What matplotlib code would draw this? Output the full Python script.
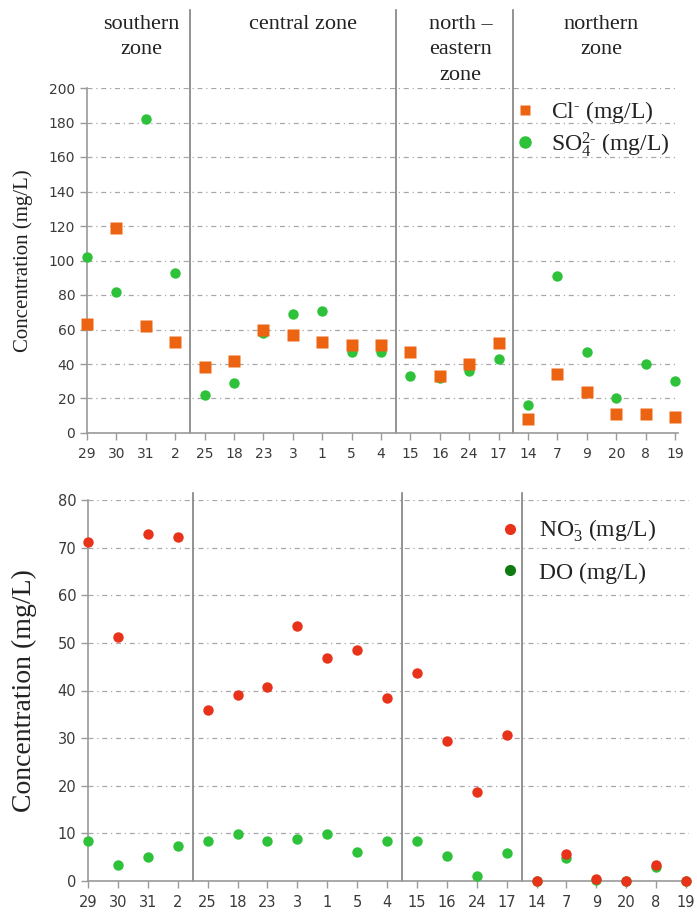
import numpy as np
import matplotlib
matplotlib.use("Agg")
import matplotlib.pyplot as plt
from matplotlib.lines import Line2D

plt.rcParams['mathtext.fontset'] = 'custom'
plt.rcParams['mathtext.rm'] = 'Liberation Serif'
plt.rcParams['mathtext.it'] = 'Liberation Serif:italic'

# ---- data ----
sites = ["29", "30", "31", "2", "25", "18", "23", "3", "1", "5", "4",
         "15", "16", "24", "17", "14", "7", "9", "20", "8", "19"]
zone_names = ["southern\nzone", "central zone", "north –\neastern\nzone", "northern\nzone"]
zone_sizes = [4, 7, 4, 6]
zone_label_x = [1.85, 7.35, 12.7, 17.5]

cl = [63, 119, 62, 53, 38, 42, 60, 57, 53, 51, 51,
      47, 33, 40, 52, 8, 34, 24, 11, 11, 9]
so4 = [102, 82, 182, 93, 22, 29, 58, 69, 71, 47, 47,
       33, 32, 36, 43, 16, 91, 47, 20, 40, 30]
no3 = [71.1, 51.3, 72.8, 72.2, 36.0, 39.0, 40.7, 53.5, 46.9, 48.6, 38.4,
       43.7, 29.3, 18.6, 30.7, 0.0, 5.7, 0.4, 0.1, 3.3, 0.1]
do = [8.5, 3.3, 5.1, 7.4, 8.5, 9.8, 8.3, 8.9, 9.8, 6.0, 8.3,
      8.3, 5.3, 1.0, 5.9, 0.0, 4.8, 0.3, 0.0, 3.0, 0.0]

top_ticks = [0, 20, 40, 60, 80, 100, 120, 140, 160, 180, 200]
bot_ticks = [0, 10, 20, 30, 40, 50, 60, 70, 80]

ORANGE = '#EC6412'
GREEN = '#2EC23A'
RED = '#E8321A'
DKGREEN = '#0E7A12'
GRIDC = '#A8A8A8'
SPINEC = '#9A9A9A'
TXT = '#3A3A3A'
SERIF = 'Liberation Serif'

W, H = 697, 916
fig = plt.figure(figsize=(W / 100, H / 100), dpi=100)

x = np.arange(len(sites))
bounds = np.cumsum(zone_sizes)[:-1] - 0.5


def style_axes(ax, ticks, xl, tick_fs):
    ax.set_xlim(*xl)
    ax.set_ylim(ticks[0], ticks[-1])
    ax.set_yticks(ticks)
    ax.set_xticks(x)
    ax.set_xticklabels(sites)
    for s in ['top', 'right']:
        ax.spines[s].set_visible(False)
    for s in ['left', 'bottom']:
        ax.spines[s].set_color(SPINEC)
        ax.spines[s].set_linewidth(1.2)
    ax.tick_params(axis='both', colors=SPINEC, labelcolor=TXT, labelsize=tick_fs,
                   length=5, width=1)
    ax.tick_params(axis='x', direction='out', length=5, pad=5)
    ax.grid(axis='y', color=GRIDC, linestyle=(0, (4, 3, 1, 3)), linewidth=0.9)
    ax.set_axisbelow(True)


# ---- top panel ----
ax1 = fig.add_axes([87 / W, 1 - 433 / H, (678 - 87) / W, (433 - 88) / H])
style_axes(ax1, top_ticks, (0, 20.1), 10)
ax1.plot(x, so4, 'o', color=GREEN, ms=7.5, mec='none', clip_on=False, zorder=3)
ax1.plot(x, cl, 's', color=ORANGE, ms=8.5, mec='none', clip_on=False, zorder=4)
for b in bounds:
    ax1.plot([b, b], [0, 245], color='#808080', lw=1.2, clip_on=False, zorder=2)
ax1.set_ylabel('Concentration (mg/L)', family=SERIF, fontsize=15, color='#222222')
ax1.yaxis.set_label_coords(-0.092, 0.5)
h1 = [Line2D([], [], marker='s', ls='none', color=ORANGE, ms=7, mec='none'),
      Line2D([], [], marker='o', ls='none', color=GREEN, ms=9, mec='none')]
leg1 = ax1.legend(h1, [r'Cl$^{\text{-}}$ (mg/L)', r'SO$_{4}^{2\text{-}}$ (mg/L)'],
                  loc='upper left', bbox_to_anchor=(513 / W, 1 - 99 / H),
                  bbox_transform=fig.transFigure, frameon=False,
                  prop={'family': SERIF, 'size': 17}, handlelength=1.0,
                  handletextpad=0.6, labelspacing=0.2, borderaxespad=0, borderpad=0)
for t in leg1.get_texts():
    t.set_color('#222222')

# zone labels
for name, zx in zip(zone_names, zone_label_x):
    xf = ax1.transData.transform((zx, 0))[0] / W
    fig.text(xf, 1 - 15 / H, name, ha='center', va='top', family=SERIF,
             fontsize=16, linespacing=1.45, color='#222222')

# ---- bottom panel ----
ax2 = fig.add_axes([88 / W, 1 - 881 / H, (689 - 88) / W, (881 - 500) / H])
style_axes(ax2, bot_ticks, (0, 20.1), 10.5)
ax2.plot(x, do, 'o', color=GREEN, ms=7.5, mec='none', clip_on=False, zorder=3)
ax2.plot(x, no3, 'o', color=RED, ms=7.5, mec='none', clip_on=False, zorder=4)
for b in bounds:
    ax2.plot([b, b], [0, 81.5], color='#808080', lw=1.2, clip_on=False, zorder=2)
ax2.set_ylabel('Concentration (mg/L)', family=SERIF, fontsize=20, color='#222222')
ax2.yaxis.set_label_coords(-0.085, 0.5)
h2 = [Line2D([], [], marker='o', ls='none', color=RED, ms=8, mec='none'),
      Line2D([], [], marker='o', ls='none', color=DKGREEN, ms=8, mec='none')]
leg2 = ax2.legend(h2, [r'NO$_{3}^{\text{-}}$ (mg/L)', 'DO (mg/L)'],
                  loc='upper left', bbox_to_anchor=(498 / W, 1 - 518 / H),
                  bbox_transform=fig.transFigure, frameon=False,
                  prop={'family': SERIF, 'size': 17}, handlelength=1.0,
                  handletextpad=0.75, labelspacing=0.75, borderaxespad=0, borderpad=0)
for t in leg2.get_texts():
    t.set_color('#222222')

fig.savefig('out.png', dpi=100, facecolor='white')
